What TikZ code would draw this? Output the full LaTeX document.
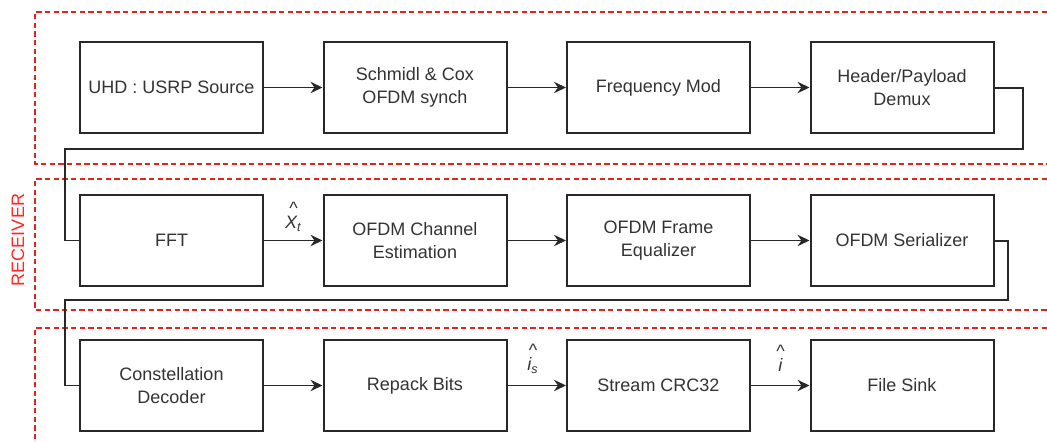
\documentclass[tikz,border=0pt]{standalone}
\usepackage{fontspec}
\setmainfont{Liberation Sans}
\usetikzlibrary{arrows.meta,positioning}
\definecolor{boxline}{RGB}{40,40,40}
\definecolor{txt}{RGB}{51,51,51}
\definecolor{dashred}{RGB}{225,35,35}
\definecolor{lblred}{RGB}{255,40,40}
\tikzset{
  blk/.style={draw=boxline, line width=1.5pt, minimum width=137.25pt, minimum height=68.25pt,
    align=center, text=txt, font=\fontsize{13.5}{17}\selectfont, inner sep=0pt},
  conn/.style={draw=boxline, line width=1.4pt},
  arr/.style={conn, -{Stealth[length=9pt,width=8.5pt,inset=3pt]}},
  grp/.style={draw=dashred, line width=1.1pt, dash pattern=on 4pt off 2.5pt},
  sig/.style={text=txt, font=\fontsize{13.5}{13.5}\selectfont\itshape, align=center, inner sep=0pt},
}
\begin{document}
\begin{tikzpicture}[x=0.75pt,y=-0.75pt]
\useasboundingbox (0,0) rectangle (1047,442);
% group boxes
\draw[grp] (1047,12) -- (35,12) -- (35,164) -- (1047,164);
\draw[grp] (1047,179) -- (35,179) -- (35,310) -- (1047,310);
\draw[grp] (1047,328) -- (35,328) -- (35,442);
\node[text=lblred, font=\fontsize{13.5}{16}\selectfont, rotate=90] (rx) at (18,240) {RECEIVER};
% row 1
\node[blk] (usrp) at (171.5,87.5) {UHD : USRP Source};
\node[blk] (sync) at (415,87.5) {Schmidl \& Cox\\OFDM synch};
\node[blk] (fmod) at (658.5,87.5) {Frequency Mod};
\node[blk] (demux) at (902,87.5) {Header/Payload\\Demux};
% row 2
\node[blk] (fft) at (171.5,240.5) {FFT};
\node[blk] (chest) at (415,240.5) {OFDM Channel\\Estimation};
\node[blk] (equ) at (658.5,240.5) {OFDM Frame\\Equalizer};
\node[blk] (ser) at (902,240.5) {OFDM Serializer};
% row 3
\node[blk] (cdec) at (171.5,385.5) {Constellation\\Decoder};
\node[blk] (rep) at (415,385.5) {Repack Bits};
\node[blk] (crc) at (658.5,385.5) {Stream CRC32};
\node[blk] (sink) at (902,385.5) {File Sink};
% arrows
\draw[arr] (usrp) -- (sync);
\draw[arr] (sync) -- (fmod);
\draw[arr] (fmod) -- (demux);
\draw[arr] (fft) -- node[sig, above=6pt] (xt) {\^{}\\[-3pt]X\textsubscript{t}} (chest);
\draw[arr] (chest) -- (equ);
\draw[arr] (equ) -- (ser);
\draw[arr] (cdec) -- (rep);
\draw[arr] (rep) -- node[sig, above=8pt, xshift=-3pt] (is) {\^{}\\[-3pt]i\textsubscript{s}} (crc);
\draw[arr] (crc) -- node[sig, above=10pt] (ih) {\^{}\\[-3pt]i} (sink);
% wrap connectors
\draw[conn] (demux.east |- 0,88) -- (1023,88) -- (1023,149) -- (65,149) -- (65,240.5) -- (fft.west);
\draw[conn] (ser.east |- 0,241) -- (1008,241) -- (1008,300) -- (65,300) -- (65,385.5) -- (cdec.west);
\end{tikzpicture}
\end{document}
